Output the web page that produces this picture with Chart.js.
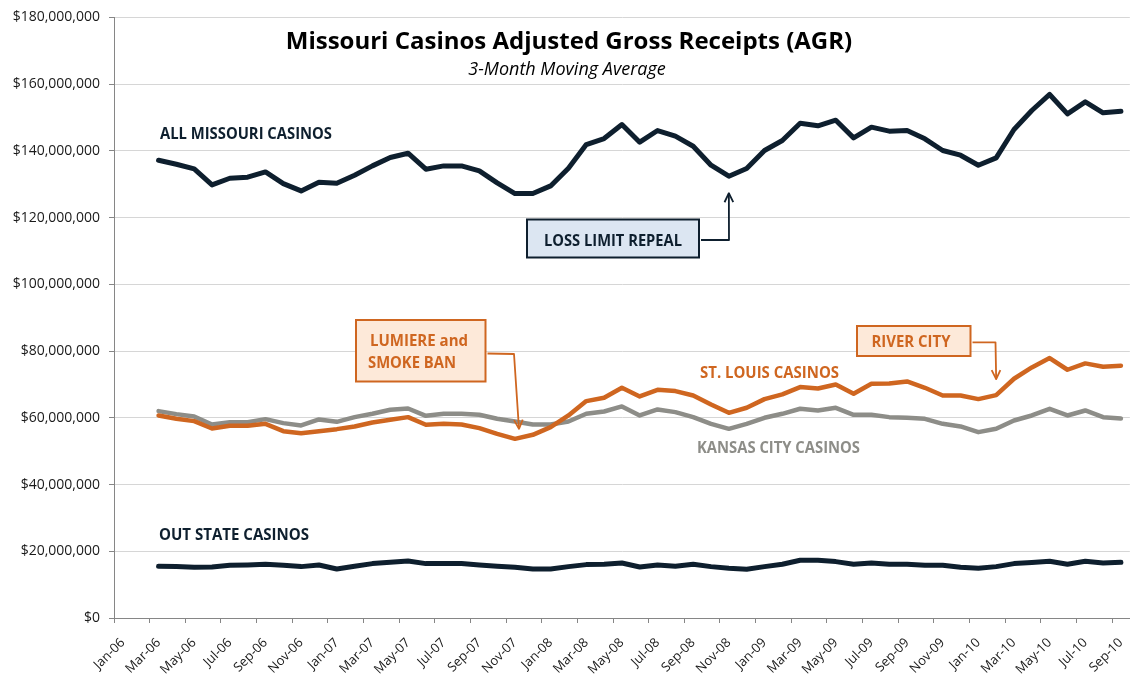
<!DOCTYPE html>
<html lang="en">
<head>
    <meta charset="UTF-8">
    <title>Missouri Casinos AGR</title>
    <style>
        body{
            margin: 0;
            background: #ffffff;
        }
        #wrap{
            width: 1144px;
            height: 677px;
        }
    </style>
</head>
<body>
    <div id="wrap">
        <canvas id="grafik"></canvas>
    </div>

    <script src="https://cdn.jsdelivr.net/npm/chart.js"></script>

    <script>
        // months on the axis (Jan-06 .. Sep-10), only every other one is labelled
        const months = [
            'Jan-06','Feb-06','Mar-06','Apr-06','May-06','Jun-06','Jul-06','Aug-06','Sep-06','Oct-06','Nov-06','Dec-06',
            'Jan-07','Feb-07','Mar-07','Apr-07','May-07','Jun-07','Jul-07','Aug-07','Sep-07','Oct-07','Nov-07','Dec-07',
            'Jan-08','Feb-08','Mar-08','Apr-08','May-08','Jun-08','Jul-08','Aug-08','Sep-08','Oct-08','Nov-08','Dec-08',
            'Jan-09','Feb-09','Mar-09','Apr-09','May-09','Jun-09','Jul-09','Aug-09','Sep-09','Oct-09','Nov-09','Dec-09',
            'Jan-10','Feb-10','Mar-10','Apr-10','May-10','Jun-10','Jul-10','Aug-10','Sep-10'
        ]

        // 3-month moving average, $ millions, Mar-06 .. Sep-10
        const allMissouri = [
            137.2,136.0,134.6,129.8,131.8,132.1,133.7,130.2,128.0,130.6,
            130.3,132.7,135.5,138.0,139.3,134.5,135.5,135.5,134.0,130.4,
            127.2,127.2,129.5,134.8,141.9,143.7,147.9,142.6,146.1,144.4,
            141.4,135.7,132.4,134.7,140.1,143.1,148.3,147.5,149.2,143.9,
            147.1,145.9,146.1,143.6,140.1,138.7,135.7,137.9,146.4,152.1,
            156.9,151.1,154.7,151.4,151.9
        ]
        const stLouis = [
            60.7,59.7,59.0,56.8,57.6,57.6,58.2,56.0,55.4,56.0,
            56.6,57.4,58.6,59.4,60.2,57.9,58.2,58.0,56.9,55.2,
            53.7,54.9,57.2,60.7,65.0,66.0,69.0,66.4,68.4,68.0,
            66.7,64.0,61.5,63.0,65.6,67.0,69.2,68.8,70.0,67.2,
            70.2,70.3,70.9,69.0,66.7,66.7,65.6,66.8,71.7,75.1,
            77.9,74.4,76.3,75.3,75.6
        ]
        const kansasCity = [
            62.0,61.1,60.4,58.0,58.7,58.7,59.6,58.4,57.7,59.5,
            58.8,60.2,61.2,62.4,62.8,60.6,61.2,61.2,60.9,59.7,
            58.9,58.0,58.0,58.9,61.2,61.9,63.4,60.7,62.5,61.7,
            60.2,58.2,56.7,58.2,60.0,61.2,62.7,62.2,63.0,60.9,
            60.9,60.2,60.0,59.7,58.2,57.4,55.7,56.7,59.2,60.7,
            62.7,60.7,62.2,60.2,59.8
        ]
        const outState = [
            15.5,15.4,15.2,15.3,15.8,15.9,16.1,15.8,15.4,15.9,
            14.7,15.5,16.3,16.7,17.1,16.3,16.3,16.3,15.9,15.5,
            15.2,14.7,14.7,15.4,16.0,16.1,16.5,15.3,15.9,15.5,
            16.1,15.4,14.9,14.6,15.4,16.1,17.3,17.3,16.9,16.1,
            16.5,16.1,16.1,15.8,15.8,15.2,14.9,15.4,16.3,16.6,
            17.0,16.1,17.0,16.5,16.7
        ]
        const startMonth = 'Mar-06'

        const yTicks = [0,20,40,60,80,100,120,140,160,180]

        const NAVY = '#0e1f2e'
        const ORANGE = '#cf6620'
        const GRAY = '#8d8d88'
        const FONT = '"Open Sans", sans-serif'

        function pad(arr){
            const lead = months.indexOf(startMonth)
            return new Array(lead).fill(null).concat(arr)
        }

        function drawArrow(ctx, pts, color){
            ctx.save()
            ctx.strokeStyle = color
            ctx.lineWidth = 1.8
            ctx.lineJoin = 'round'
            ctx.beginPath()
            ctx.moveTo(pts[0][0], pts[0][1])
            for (let i = 1; i < pts.length; i++) ctx.lineTo(pts[i][0], pts[i][1])
            ctx.stroke()
            const a = pts[pts.length-1], b = pts[pts.length-2]
            const ang = Math.atan2(a[1]-b[1], a[0]-b[0])
            ctx.beginPath()
            ctx.moveTo(a[0] - 10*Math.cos(ang-0.45), a[1] - 10*Math.sin(ang-0.45))
            ctx.lineTo(a[0], a[1])
            ctx.lineTo(a[0] - 10*Math.cos(ang+0.45), a[1] - 10*Math.sin(ang+0.45))
            ctx.stroke()
            ctx.restore()
        }

        function box(ctx, x1, y1, x2, y2, fill, stroke){
            ctx.save()
            ctx.fillStyle = fill
            ctx.fillRect(x1, y1, x2-x1, y2-y1)
            ctx.strokeStyle = stroke
            ctx.lineWidth = 2
            ctx.strokeRect(x1, y1, x2-x1, y2-y1)
            ctx.restore()
        }

        function label(ctx, txt, x, y, w, font, color, align){
            ctx.font = font
            ctx.fillStyle = color
            ctx.textAlign = align || 'left'
            ctx.textBaseline = 'alphabetic'
            ctx.fillText(txt, x, y, w)
        }

        // titles, series names and callouts
        const notes = {
            id: 'notes',
            afterDatasetsDraw(chart){
                const ctx = chart.ctx
                const xs = chart.scales.x
                const ys = chart.scales.y
                const lead = months.indexOf(startMonth)

                label(ctx, 'Missouri Casinos Adjusted Gross Receipts (AGR)', 569, 49, 572, 'bold 24px ' + FONT, '#000000', 'center')
                label(ctx, '3-Month Moving Average', 567, 75, 237, 'italic 18px ' + FONT, '#000000', 'center')

                label(ctx, 'ALL MISSOURI CASINOS', 160, 138.5, 172, 'bold 16px ' + FONT, NAVY)
                label(ctx, 'OUT STATE CASINOS', 159, 539.5, 150, 'bold 16px ' + FONT, NAVY)
                label(ctx, 'ST. LOUIS CASINOS', 700, 378, 139, 'bold 16px ' + FONT, ORANGE)
                label(ctx, 'KANSAS CITY CASINOS', 697, 452.5, 163, 'bold 16px ' + FONT, GRAY)

                // loss limit repeal -> Nov-08
                box(ctx, 527, 219.5, 699, 257.5, '#dce6f2', NAVY)
                label(ctx, 'LOSS LIMIT REPEAL', 613, 246, 138, 'bold 16px ' + FONT, NAVY, 'center')
                let m = months.indexOf('Nov-08')
                let tx = xs.getPixelForValue(m)
                let ty = ys.getPixelForValue(allMissouri[m-lead]) + 17
                drawArrow(ctx, [[701, 240], [729, 240], [tx, ty]], NAVY)

                // lumiere and smoke ban -> Nov-07
                box(ctx, 356, 320, 485.5, 381.5, '#fde9d9', ORANGE)
                label(ctx, 'LUMIERE and', 370, 346, 98, 'bold 16px ' + FONT, ORANGE)
                label(ctx, 'SMOKE BAN', 368, 368, 88, 'bold 16px ' + FONT, ORANGE)
                m = months.indexOf('Nov-07')
                tx = xs.getPixelForValue(m) + 4
                ty = ys.getPixelForValue(stLouis[m-lead]) - 10
                drawArrow(ctx, [[487.5, 353.5], [514, 354], [tx, ty]], ORANGE)

                // river city -> Feb-10
                box(ctx, 857, 326, 970.5, 356, '#fde9d9', ORANGE)
                label(ctx, 'RIVER CITY', 911, 346.5, 79, 'bold 16px ' + FONT, ORANGE, 'center')
                m = months.indexOf('Feb-10')
                tx = xs.getPixelForValue(m)
                ty = ys.getPixelForValue(stLouis[m-lead]) - 16
                drawArrow(ctx, [[972.5, 342.3], [995.5, 342.3], [tx, ty]], ORANGE)
            }
        }

        function lineSet(name, data, color, width){
            return {
                label: name,
                data: pad(data),
                borderColor: color,
                backgroundColor: color,
                borderWidth: width,
                pointRadius: 0,
                tension: 0,
                borderJoinStyle: 'round',
                borderCapStyle: 'round',
                fill: false
            }
        }

        const ctxLine = document.getElementById('grafik')

        new Chart(ctxLine, {
            type: 'line',
            data: {
                labels: months,
                datasets: [
                    lineSet('All Missouri Casinos', allMissouri, NAVY, 5),
                    lineSet('Out State Casinos', outState, NAVY, 5),
                    lineSet('St. Louis Casinos', stLouis, ORANGE, 4.5),
                    lineSet('Kansas City Casinos', kansasCity, GRAY, 4.5)
                ]
            },
            options: {
                responsive: true,
                maintainAspectRatio: false,
                animation: false,
                layout: {
                    padding: { top: 16, right: 5, left: 0, bottom: 0 }
                },
                plugins: {
                    legend: { display: false },
                    tooltip: { enabled: false },
                    title: { display: false }
                },
                scales: {
                    x: {
                        type: 'category',
                        offset: true,
                        afterFit(scale){ scale.height = 59 },
                        grid: {
                            offset: true,
                            drawOnChartArea: false,
                            tickLength: 5,
                            color: (c) => (c.index % 2 === 0 ? '#868686' : 'rgba(0,0,0,0)')
                        },
                        border: { color: '#868686', width: 1 },
                        ticks: {
                            autoSkip: false,
                            minRotation: 45,
                            maxRotation: 45,
                            padding: 12,
                            color: '#1a1a1a',
                            font: { family: FONT, size: 13 },
                            callback: function(v, i){ return i % 2 === 0 ? months[i] : '' }
                        }
                    },
                    y: {
                        min: yTicks[0],
                        max: yTicks[yTicks.length-1],
                        afterFit(scale){ scale.width = 114 },
                        afterBuildTicks(scale){ scale.ticks = yTicks.map(v => ({ value: v })) },
                        grid: {
                            color: '#d6d6d6',
                            lineWidth: 1,
                            tickLength: 5,
                            tickColor: '#868686'
                        },
                        border: { color: '#868686', width: 1 },
                        ticks: {
                            padding: 9,
                            color: '#1a1a1a',
                            font: { family: FONT, size: 14 },
                            callback: (v) => '$' + (v * 1000000).toLocaleString('en-US')
                        }
                    }
                }
            },
            plugins: [notes]
        })
    </script>
</body>
</html>
